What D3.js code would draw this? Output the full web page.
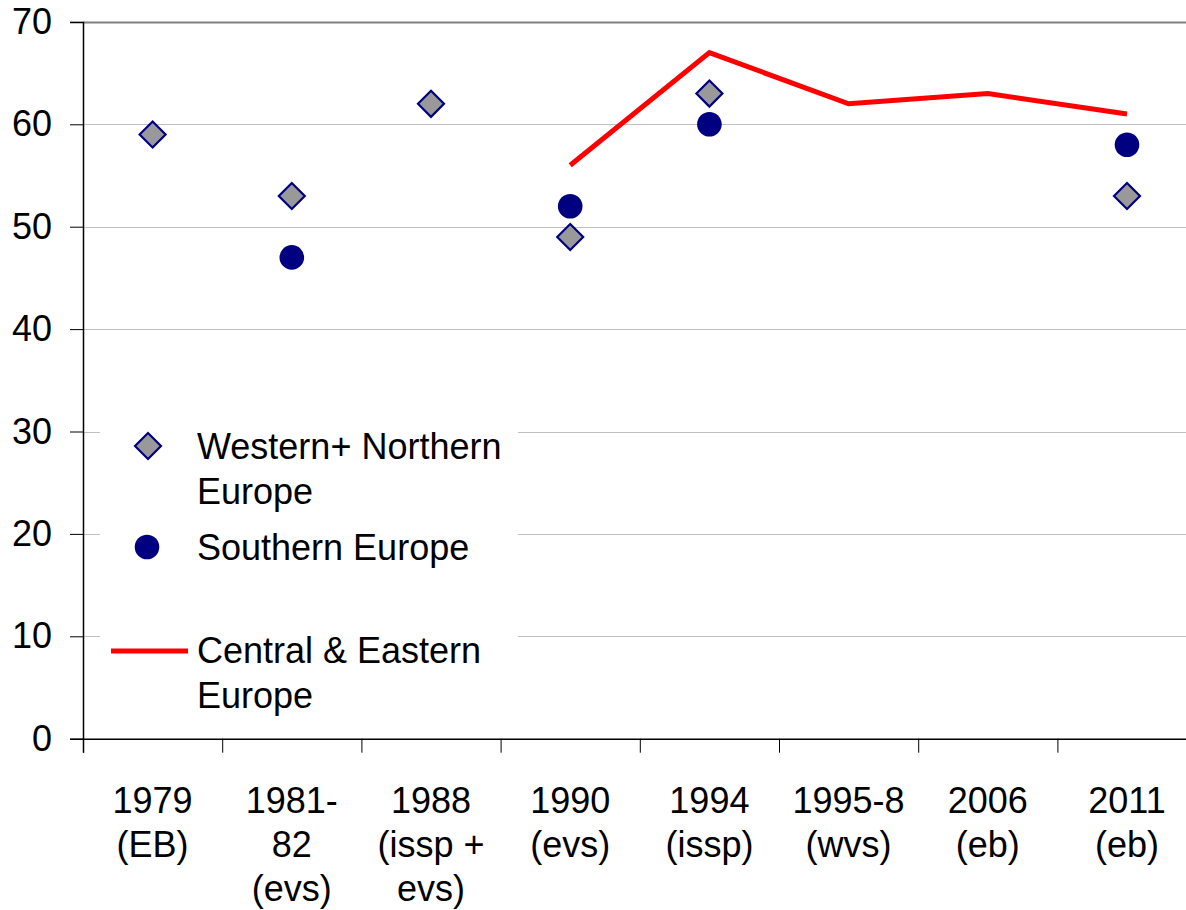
<!DOCTYPE html>
<html>
<head>
<meta charset="utf-8">
<script src="https://cdn.jsdelivr.net/npm/d3@7"></script>
<style>
html,body{margin:0;padding:0;background:#fff;overflow:hidden;}
svg{display:block;}
text{font-family:"Liberation Sans",Arial,sans-serif;fill:#000;}
</style>
</head>
<body>
<svg id="chart" width="1186" height="910"></svg>
<script>
// ---- data ----
const categories = ["1979\n(EB)", "1981-\n82\n(evs)", "1988\n(issp +\nevs)", "1990\n(evs)", "1994\n(issp)", "1995-8\n(wvs)", "2006\n(eb)", "2011\n(eb)"];
const westernNorthern = [59, 53, 62, 49, 63, null, null, 53];
const southern = [null, 47, null, 52, 60, null, null, 58];
const centralEastern = [null, null, null, 56, 67, 62, 63, 61];
const yTicks = [0, 10, 20, 30, 40, 50, 60, 70];
const seriesNames = ["Western+ Northern\nEurope", "Southern Europe", "Central & Eastern\nEurope"];

// ---- layout ----
const svg = d3.select("#chart");
const pLeft = 83, pRight = 1196.6, pTop = 21.9, pBottom = 738.7;

const x = d3.scaleBand().domain(categories).range([pLeft, pRight]).padding(0);
const xi = d3.scaleLinear().domain([0, categories.length]).range([pLeft, pRight]);
const y = d3.scaleLinear().domain([0, 70]).range([pBottom, pTop]);

// gridlines
svg.append("g").selectAll("line").data(yTicks.filter(d => d > 0)).join("line")
  .attr("x1", pLeft).attr("x2", pRight)
  .attr("y1", d => Math.round(y(d)) + 0.5).attr("y2", d => Math.round(y(d)) + 0.5)
  .attr("stroke", d => d === 70 ? "#808080" : "#c0c0c0")
  .attr("stroke-width", d => d === 70 ? 2 : 1);

// y axis
const yAxis = svg.append("g").attr("transform", `translate(${pLeft},0)`)
  .call(d3.axisLeft(y).tickValues(yTicks).tickSize(13).tickPadding(18).tickFormat(d3.format("d")));
yAxis.select(".domain").attr("stroke", "#000").attr("stroke-width", 1.5);
yAxis.selectAll(".tick line").attr("stroke", "#000");
yAxis.selectAll("text").style("font-size", "36px").attr("font-family", null).attr("fill", "#000");

// x axis
const xAxis = svg.append("g").attr("transform", `translate(0,${pBottom})`)
  .call(d3.axisBottom(xi).tickValues(d3.range(0, categories.length + 1)).tickSize(14).tickFormat(""));
xAxis.select(".domain").attr("stroke", "#000").attr("stroke-width", 1.5);
xAxis.selectAll(".tick line").attr("stroke", "#000");

// category labels
const lab = svg.append("g").selectAll("text").data(categories).join("text")
  .attr("x", d => x(d) + x.bandwidth() / 2)
  .attr("y", 813)
  .attr("text-anchor", "middle")
  .style("font-size", "36px");
lab.selectAll("tspan").data(d => d.split("\n")).join("tspan")
  .attr("x", function() { return d3.select(this.parentNode).attr("x"); })
  .attr("dy", (d, i) => i === 0 ? 0 : 44)
  .text(d => d);

const cx = i => x(categories[i]) + x.bandwidth() / 2;

// central & eastern line
const lineData = centralEastern.map((v, i) => ({ i, v })).filter(d => d.v != null);
svg.append("path")
  .attr("d", d3.line().x(d => cx(d.i)).y(d => y(d.v))(lineData))
  .attr("fill", "none").attr("stroke", "#ff0000").attr("stroke-width", 5);

// western+northern diamonds
const diamond = "M0,-13L13,0L0,13L-13,0Z";
svg.append("g").selectAll("path")
  .data(westernNorthern.map((v, i) => ({ i, v })).filter(d => d.v != null)).join("path")
  .attr("d", diamond)
  .attr("transform", d => `translate(${cx(d.i)},${y(d.v)})`)
  .attr("fill", "#999999").attr("stroke", "#000080").attr("stroke-width", 2.2);

// southern circles
svg.append("g").selectAll("circle")
  .data(southern.map((v, i) => ({ i, v })).filter(d => d.v != null)).join("circle")
  .attr("cx", d => cx(d.i)).attr("cy", d => y(d.v)).attr("r", 12.3)
  .attr("fill", "#000080");

// legend
const lg = svg.append("g");
lg.append("rect").attr("x", 100).attr("y", 418).attr("width", 418).attr("height", 300).attr("fill", "#fff");
lg.append("path").attr("d", diamond).attr("transform", "translate(148,446)")
  .attr("fill", "#999999").attr("stroke", "#000080").attr("stroke-width", 2.2);
lg.append("circle").attr("cx", 147).attr("cy", 547).attr("r", 12.3).attr("fill", "#000080");
lg.append("line").attr("x1", 111).attr("x2", 188).attr("y1", 651).attr("y2", 651)
  .attr("stroke", "#ff0000").attr("stroke-width", 5);
const legendY = [459, 560, 663];
const lt = lg.selectAll("text.lgt").data(seriesNames).join("text")
  .attr("class", "lgt")
  .attr("x", 197).attr("y", (d, i) => legendY[i])
  .style("font-size", "36px");
lt.selectAll("tspan").data(d => d.split("\n")).join("tspan")
  .attr("x", 197).attr("dy", (d, i) => i === 0 ? 0 : 45)
  .text(d => d);
</script>
</body>
</html>
